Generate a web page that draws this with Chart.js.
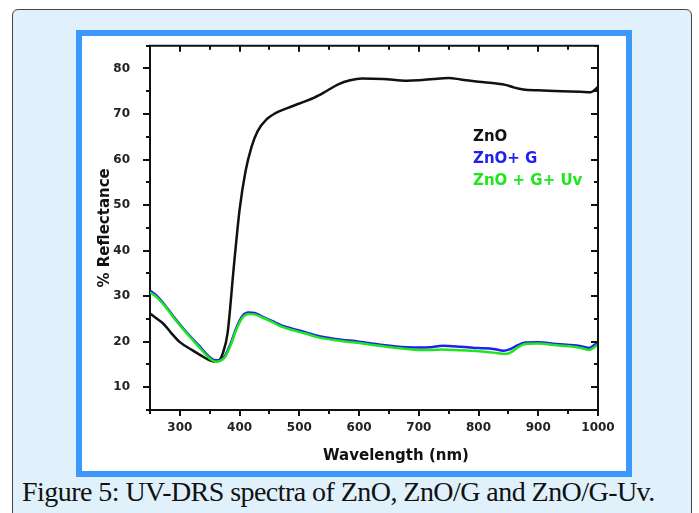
<!DOCTYPE html>
<html>
<head>
<meta charset="utf-8">
<title>UV-DRS spectra</title>
<script src="https://cdn.jsdelivr.net/npm/chart.js@4.4.1/dist/chart.umd.min.js"></script>
<style>
  html, body { margin: 0; padding: 0; background: #ffffff; }
  #panel {
    position: absolute; left: 12px; top: 9px; width: 678px; height: 520px;
    background: #e1f1fc; border: 1px solid #444; border-radius: 6px;
  }
  #frame {
    position: absolute; left: 76px; top: 30px; width: 544px; height: 435px;
    border: 6px solid #3b99fc; background: #ffffff;
  }
  #frame canvas { display: block; }
  #caption {
    position: absolute; left: 22px; top: 477px;
    font: 28px "Liberation Serif", serif; line-height: 30px; color: #111;
    white-space: nowrap; letter-spacing: -0.55px;
  }
</style>
</head>
<body>
<div id="panel"></div>
<div id="frame"><canvas id="chart" width="544" height="435"></canvas></div>
<div id="caption">Figure 5: UV-DRS spectra of ZnO, ZnO/G and ZnO/G-Uv.</div>
<script>
// ZnO
var znoWl = [250,260,272,285,300,320,335,350,358,365,372,380,390,400,410,420,430,445,460,480,500,525,545,565,585,605,640,680,700,725,750,770,800,830,845,860,875,900,940,970,988,1000];
var znoR  = [26.2,25.2,24.0,22.0,19.9,18.2,17.0,15.9,15.6,15.8,17.5,22,36,49,57.5,62.8,66.2,68.8,70.2,71.3,72.3,73.6,75.0,76.5,77.4,77.8,77.7,77.3,77.4,77.7,77.9,77.6,77.1,76.7,76.4,75.8,75.4,75.2,75.0,74.9,74.8,75.9];

// ZnO + G
var zngWl = [250,260,275,290,305,320,335,350,360,368,376,385,395,405,415,425,440,455,470,490,510,530,560,600,640,680,700,720,740,770,800,825,842,852,865,878,900,930,960,975,985,993,1000];
var zngR  = [31.2,30.2,28.0,25.4,23.0,20.8,18.7,16.6,15.9,16.0,17.0,19.6,23.2,25.7,26.4,26.3,25.4,24.5,23.6,22.8,22.1,21.3,20.6,20.0,19.3,18.8,18.7,18.8,19.1,18.9,18.6,18.4,18.0,18.3,19.2,19.8,19.9,19.5,19.2,18.9,18.6,19.2,19.9];

// ZnO + G + Uv
var zguWl = [250,260,275,290,305,320,335,350,360,368,376,385,395,405,415,425,440,455,470,490,510,530,560,600,640,680,700,720,740,770,800,825,845,855,865,878,900,930,960,975,985,993,1000];
var zguR  = [30.8,29.9,27.8,25.2,22.8,20.6,18.4,16.3,15.6,15.8,16.7,19.2,22.8,25.3,26.1,26.0,25.2,24.3,23.3,22.5,21.8,21.0,20.3,19.7,19.0,18.4,18.2,18.2,18.3,18.1,17.9,17.6,17.3,17.7,18.7,19.5,19.6,19.2,18.9,18.5,18.2,18.7,19.4];

var seriesNames  = ["ZnO", "ZnO+ G", "ZnO + G+ Uv"];
var seriesColors = ["#111111", "#1f1ff0", "#1ee61e"];

function pairs(xs, ys){
    var out = [];
    for (var i = 0; i < xs.length; i++) out.push({x: xs[i], y: ys[i]});
    return out;
}

function lineSet(idx, data, order){
    return {
        label: seriesNames[idx],
        data: data,
        borderColor: seriesColors[idx],
        backgroundColor: seriesColors[idx],
        borderWidth: 2.5,
        pointRadius: 0,
        fill: false,
        cubicInterpolationMode: 'monotone',
        order: order
    };
}

// tick marks, top/right frame, x title and text legend
var decorPlugin = {
    id: 'decor',
    afterDraw: function(chart){
        var ctx = chart.ctx, a = chart.chartArea;
        var xs = chart.scales.x, ys = chart.scales.y;
        ctx.save();
        ctx.strokeStyle = '#111';
        ctx.lineWidth = 2;
        ctx.beginPath();
        ctx.moveTo(a.left - 1, a.top);
        ctx.lineTo(a.right, a.top);
        ctx.lineTo(a.right, a.bottom + 1);
        ctx.stroke();

        ctx.beginPath();
        xs.ticks.forEach(function(t){
            var px = Math.round(xs.getPixelForValue(t.value));
            var len = (t.value % 100 === 0) ? 6 : 4;
            ctx.moveTo(px, a.bottom); ctx.lineTo(px, a.bottom + len);
            ctx.moveTo(px, a.top); ctx.lineTo(px, a.top + len);
        });
        ys.ticks.forEach(function(t){
            var py = Math.round(ys.getPixelForValue(t.value));
            var len = (t.value % 10 === 0) ? 7 : 4;
            ctx.moveTo(a.left, py); ctx.lineTo(a.left - len, py);
            ctx.moveTo(a.right, py); ctx.lineTo(a.right - len, py);
        });
        ctx.stroke();

        ctx.fillStyle = '#111';
        ctx.font = 'bold 15px "DejaVu Sans"';
        ctx.textAlign = 'center';
        ctx.textBaseline = 'middle';
        ctx.fillText('Wavelength (nm)', a.left + 246, a.bottom + 46);

        ctx.textAlign = 'left';
        for (var i = 0; i < seriesNames.length; i++){
            ctx.fillStyle = seriesColors[i];
            ctx.fillText(seriesNames[i], a.left + 323, a.top + 91 + i * 22);
        }
        ctx.restore();
    }
};

var ctx = document.getElementById('chart').getContext('2d');
var chart = new Chart(ctx, {
    type: 'line',
    data: {
        datasets: [
            lineSet(0, pairs(znoWl, znoR), 2),
            lineSet(1, pairs(zngWl, zngR), 1),
            lineSet(2, pairs(zguWl, zguR), 0)
        ]
    },
    options: {
        responsive: false,
        animation: false,
        layout: { padding: { top: 9.7, right: 28, bottom: 0, left: 0 } },
        plugins: {
            legend: { display: false },
            tooltip: { enabled: false }
        },
        scales: {
            x: {
                type: 'linear',
                min: 250, max: 1000,
                afterFit: function(s){ s.height = 61; s.paddingLeft = 0; s.paddingRight = 0; },
                grid: { display: false },
                border: { display: true, color: '#111', width: 2 },
                ticks: {
                    stepSize: 50, autoSkip: false, maxRotation: 0, padding: 3,
                    color: '#222', font: { family: 'DejaVu Sans', size: 12, weight: 'bold' },
                    callback: function(v){ return (v % 100 === 0 && v > 250) ? v : ''; }
                }
            },
            y: {
                min: 5, max: 85,
                afterFit: function(s){ s.width = 68; s.paddingTop = 0; s.paddingBottom = 0; },
                grid: { display: false },
                border: { display: true, color: '#111', width: 2 },
                title: {
                    display: true, text: '% Reflectance', color: '#111',
                    font: { family: 'DejaVu Sans', size: 15, weight: 'bold' },
                    padding: { top: 14, bottom: 0 }
                },
                ticks: {
                    stepSize: 5, autoSkip: false, padding: 12,
                    color: '#222', font: { family: 'DejaVu Sans', size: 12, weight: 'bold' },
                    callback: function(v){ return (v % 10 === 0) ? v : ''; }
                }
            }
        }
    },
    plugins: [decorPlugin]
});
</script>
</body>
</html>
